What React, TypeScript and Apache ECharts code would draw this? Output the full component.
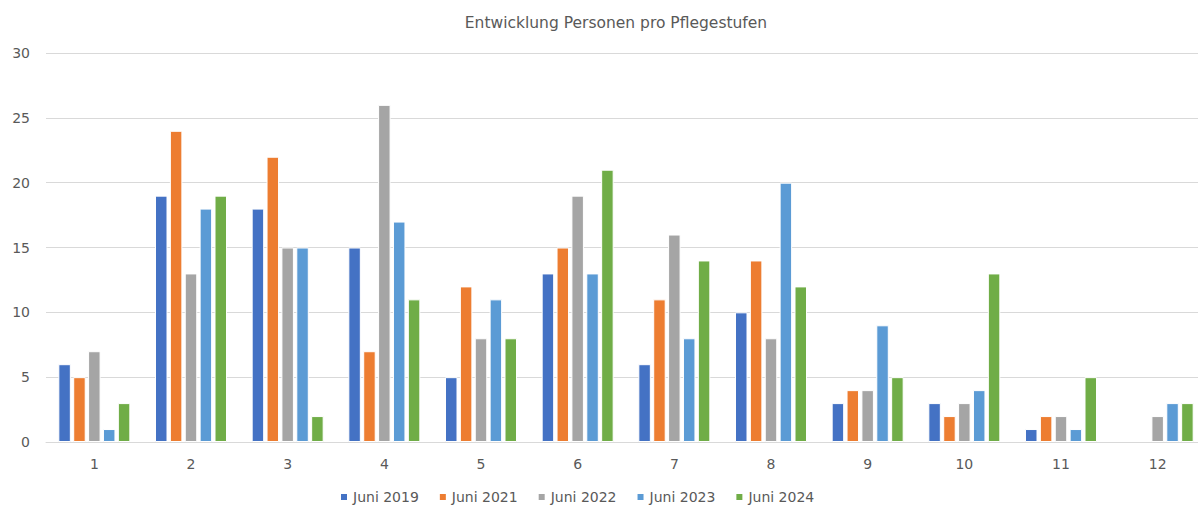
import React, { useEffect, useRef } from "react";
import * as echarts from "echarts";

const categories = ["1", "2", "3", "4", "5", "6", "7", "8", "9", "10", "11", "12"];
const seriesNames = ["Juni 2019", "Juni 2021", "Juni 2022", "Juni 2023", "Juni 2024"];
const juni2019 = [6, 19, 18, 15, 5, 13, 6, 10, 3, 3, 1, null];
const juni2021 = [5, 24, 22, 7, 12, 15, 11, 14, 4, 2, 2, null];
const juni2022 = [7, 13, 15, 26, 8, 19, 16, 8, 4, 3, 2, 2];
const juni2023 = [1, 18, 15, 17, 11, 13, 8, 20, 9, 4, 1, 3];
const juni2024 = [3, 19, 2, 11, 8, 21, 14, 12, 5, 13, 5, 3];
const colors = ["#4472C4", "#ED7D31", "#A5A5A5", "#5B9BD5", "#70AD47"];
const yTicks = [0, 5, 10, 15, 20, 25, 30];

export default function App() {
  const ref = useRef<HTMLDivElement>(null);
  useEffect(() => {
    if (!ref.current) return;
    const chart = echarts.init(ref.current, null, { renderer: "svg" });
    const data = [juni2019, juni2021, juni2022, juni2023, juni2024];
    const font = "DejaVu Sans, Verdana, sans-serif";
    chart.setOption({
      animation: false,
      color: colors,
      textStyle: { fontFamily: font },
      title: {
        text: "Entwicklung Personen pro Pflegestufen",
        left: 611,
        textAlign: "center",
        top: 10,
        textStyle: { color: "#595959", fontSize: 15.5, fontWeight: "normal", fontFamily: font },
      },
      legend: {
        top: 490,
        left: 339,
        padding: 0,
        itemWidth: 8,
        itemHeight: 8,
        itemGap: 19,
        icon: "rect",
        textStyle: { color: "#595959", fontSize: 14, fontFamily: font },
        data: seriesNames,
      },
      grid: { left: 46, width: 1160, top: 53, bottom: 64 },
      xAxis: {
        type: "category",
        data: categories,
        axisTick: { show: false },
        axisLine: { lineStyle: { color: "#D9D9D9" } },
        axisLabel: { color: "#595959", fontSize: 14, margin: 15 },
      },
      yAxis: {
        type: "value",
        min: yTicks[0],
        max: yTicks[yTicks.length - 1],
        interval: 5,
        axisLine: { show: false },
        axisTick: { show: false },
        axisLabel: { color: "#595959", fontSize: 14, margin: 16 },
        splitLine: { lineStyle: { color: "#D9D9D9" } },
      },
      series: seriesNames.map((name, i) => ({
        name,
        type: "bar",
        data: data[i],
        barWidth: 12.5,
        barGap: "19%",
        itemStyle: { color: colors[i], borderColor: "#ffffff", borderWidth: 1 },
      })),
    });
    return () => chart.dispose();
  }, []);
  return (
    <div style={{ width: 1198, height: 506, position: "absolute", left: 0, top: 0, overflow: "hidden" }}>
      <div ref={ref} style={{ width: 1220, height: 506, position: "absolute", left: 0, top: 0 }} />
    </div>
  );
}
